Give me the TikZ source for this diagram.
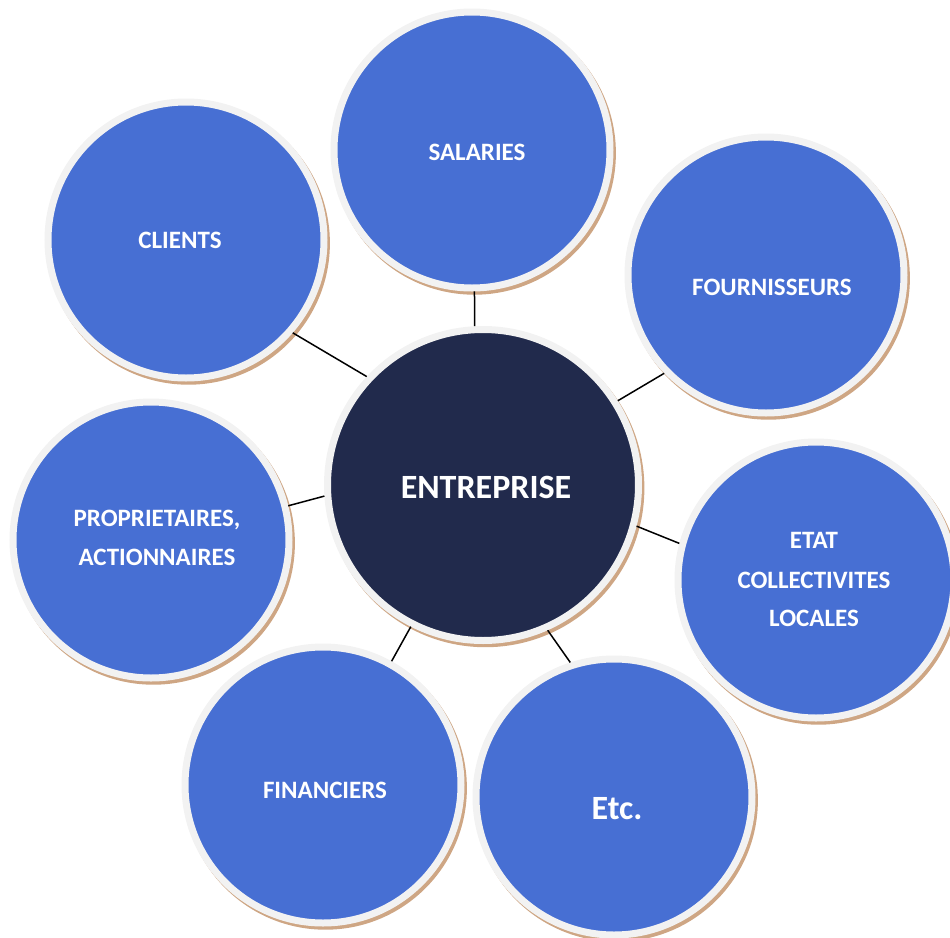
\documentclass[tikz,border=0pt]{standalone}
\usepackage{fontspec}
\setmainfont{Carlito}
\usetikzlibrary{backgrounds}
\definecolor{bubbleblue}{RGB}{71,111,211}
\definecolor{navy}{RGB}{33,42,76}
\definecolor{ringgray}{RGB}{242,242,242}
\definecolor{shadowtan}{RGB}{206,166,132}
\begin{document}
\begin{tikzpicture}[x=0.5pt,y=-0.5pt,
  bubble/.style={circle, fill=bubbleblue, draw=ringgray, line width=3.5pt, minimum size=138pt, inner sep=0pt},
  core/.style={bubble, fill=navy, minimum size=155.5pt},
  lbl/.style={text=white, font=\fontsize{12.5}{15}\selectfont\bfseries, anchor=base, inner sep=0pt},
  biglbl/.style={lbl, font=\fontsize{17}{20}\selectfont\bfseries},
  link/.style={draw=black, line width=0.75pt}]
\useasboundingbox (0,0) rectangle (950,938);

% circles
\node[core]   (ent) at (483,485) {};
\node[bubble] (sal) at (472,150) {};
\node[bubble] (cli) at (186,240) {};
\node[bubble] (fou) at (766,275) {};
\node[bubble] (pro) at (151,540) {};
\node[bubble] (eta) at (816,580) {};
\node[bubble] (fin) at (323,785) {};
\node[bubble] (etc) at (614,797) {};

% shadows
\begin{scope}[on background layer]
  \fill[shadowtan] ([xshift=1.2pt,yshift=-1.6pt]ent.center) circle[radius=79.5pt];
  \foreach \n in {sal,cli,fou,pro,eta,fin,etc}
    \fill[shadowtan] ([xshift=1.2pt,yshift=-1.6pt]\n.center) circle[radius=70.75pt];
\end{scope}

% labels
\node[biglbl] (entt) at (486,498) {ENTREPRISE};
\node[lbl] (salt) at (477,160) {SALARIES};
\node[lbl] (clit) at (180,248) {CLIENTS};
\node[lbl] (fout) at (772,295) {FOURNISSEURS};
\node[lbl] (prot1) at (157,526) {PROPRIETAIRES,};
\node[lbl] (prot2) at (157,565) {ACTIONNAIRES};
\node[lbl] (etat1) at (814,548) {ETAT};
\node[lbl] (etat2) at (814,588) {COLLECTIVITES};
\node[lbl] (etat3) at (814,626) {LOCALES};
\node[lbl] (fint) at (325,798) {FINANCIERS};
\node[biglbl] (etct) at (617,819) {Etc.};

% connectors
\draw[link] (sal.271) -- (ent.93);
\draw[link] (cli.319) -- (ent.137.8);
\draw[link] (fou.224) -- (ent.32);
\draw[link] (pro.14) -- (ent.184.6);
\draw[link] (eta.165) -- (ent.345);
\draw[link] (fin.61) -- (ent.243.7);
\draw[link] (etc.108) -- (ent.294.4);
\end{tikzpicture}
\end{document}
